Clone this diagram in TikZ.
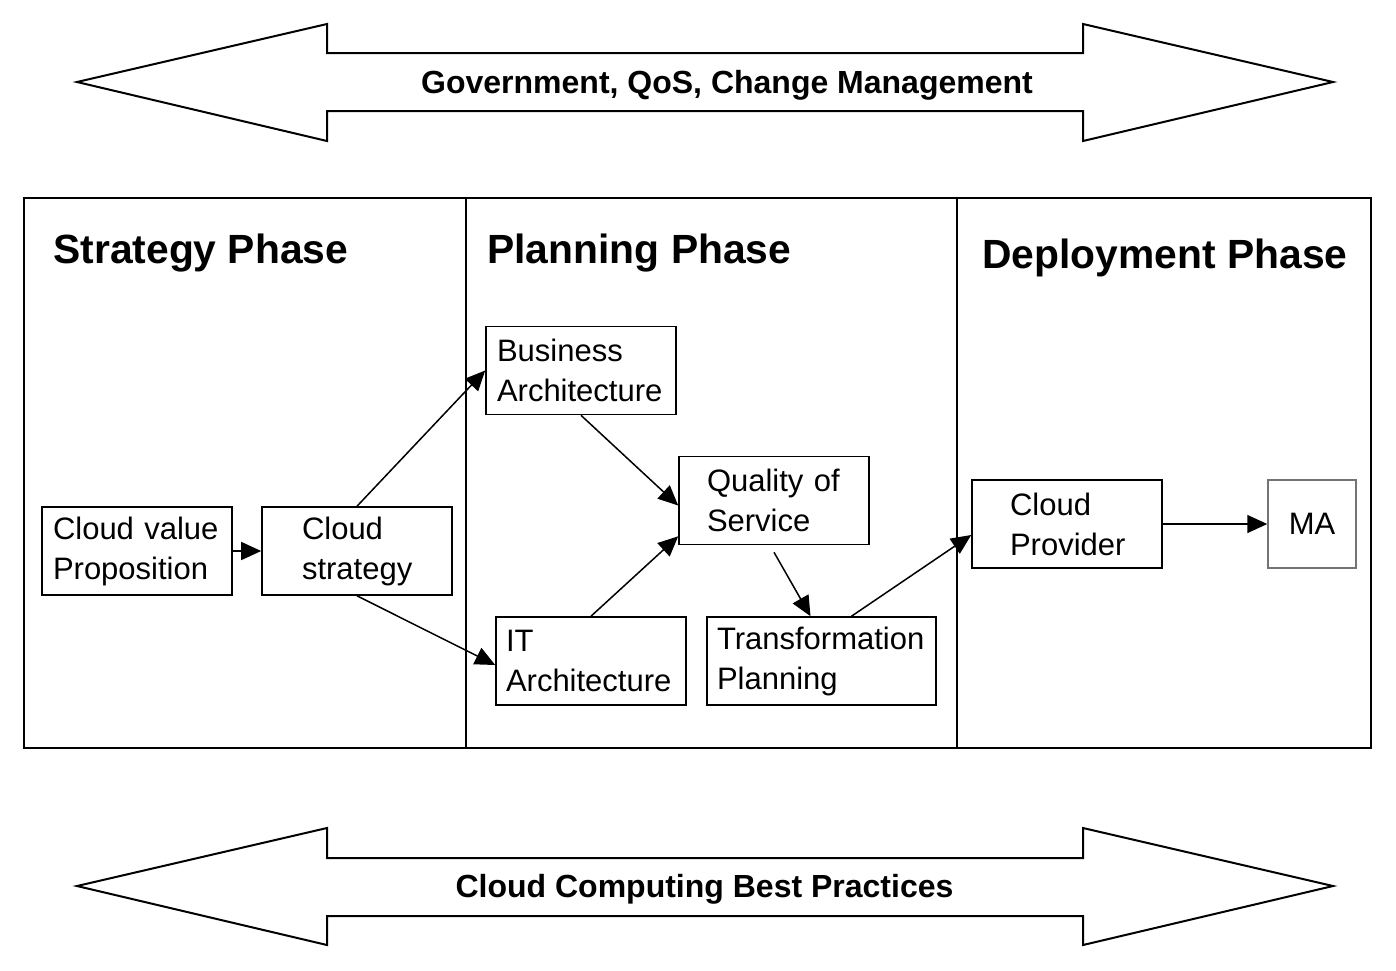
\documentclass[tikz,border=0pt]{standalone}
\usepackage{fontspec}
\setmainfont{Liberation Sans}
\usetikzlibrary{arrows.meta}
\begin{document}
\begin{tikzpicture}[x=0.5pt,y=-0.5pt,
  pbox/.style={draw, line width=0.8pt, minimum height=44pt, align=left, inner ysep=0pt,
     font=\fontsize{15.5}{20}\selectfont},
  phase/.style={anchor=west, inner sep=0pt, font=\fontsize{20.4}{24}\selectfont\bfseries},
  band/.style={font=\fontsize{16}{19}\selectfont\bfseries, inner sep=0pt},
  flow/.style={line width=0.75pt, -{Triangle[length=10pt,width=9pt]}},
  bigarrow/.style={draw, line width=1pt, fill=white}]
\useasboundingbox (0,0) rectangle (1396,970);
% top band arrow
\draw[bigarrow] (77,82) -- (327,24) -- (327,53) -- (1083,53) -- (1083,24) -- (1333,82)
  -- (1083,141) -- (1083,111) -- (327,111) -- (327,141) -- cycle;
\node[band] (toplabel) at (727,85) {Government, QoS, Change Management};
% bottom band arrow
\draw[bigarrow] (77,886) -- (327,828) -- (327,858) -- (1083,858) -- (1083,828) -- (1333,886)
  -- (1083,945) -- (1083,916) -- (327,916) -- (327,945) -- cycle;
\node[band] (botlabel) at (704.5,889) {Cloud Computing Best Practices};
% frame
\draw[line width=1.3pt] (24,198) rectangle (1371,748);
\draw[line width=1.3pt] (466,198) -- (466,748);
\draw[line width=1.3pt] (957,198) -- (957,748);
% headings
\node[phase] (sp) at (53,253) {Strategy Phase};
\node[phase] (pp) at (487,253) {Planning Phase};
\node[phase] (dp) at (982,258) {Deployment Phase};
% boxes
\node[pbox, inner xsep=5.5pt, text width=84pt] (cvp) at (137,551) {Cloud value\\Proposition};
\node[pbox, inner xsep=20pt, text width=55pt] (cs) at (357,551) {Cloud\\strategy};
\node[pbox, inner xsep=5.5pt, text width=84pt] (ba) at (581,370.5) {Business\\Architecture};
\node[pbox, inner xsep=14pt, text width=67pt] (qos) at (774,500.5) {Quality of\\Service};
\node[pbox, inner xsep=5pt, text width=85pt] (it) at (591,661) {IT\\Architecture};
\node[pbox, inner xsep=5pt, text width=104.5pt] (tp) at (821.5,661) {Transformation\\Planning};
\node[pbox, inner xsep=19pt, text width=57pt] (cp) at (1067,524) {Cloud\\Provider};
\node[draw=black!55, line width=0.75pt, minimum width=44pt, minimum height=44pt, inner sep=0pt,
  font=\fontsize{15.5}{20}\selectfont] (ma) at (1312,524) {MA};
% connectors
\draw[flow] (cvp.east) -- (cs.west);
\draw[flow] (cs.north) -- (ba.west);
\draw[flow] (cs.south) -- ([yshift=-2pt]it.west);
\draw[flow] (ba.south) -- ([yshift=-2.5pt]qos.west);
\draw[flow] (it.north) -- ([yshift=4.5pt]qos.south west);
\draw[flow] ([yshift=-3.5pt]qos.south) -- ([xshift=-5.5pt]tp.north);
\draw[flow] ([xshift=15pt]tp.north) -- ([yshift=-5.5pt]cp.west);
\draw[flow] (cp.east) -- (ma.west);
\end{tikzpicture}
\end{document}
